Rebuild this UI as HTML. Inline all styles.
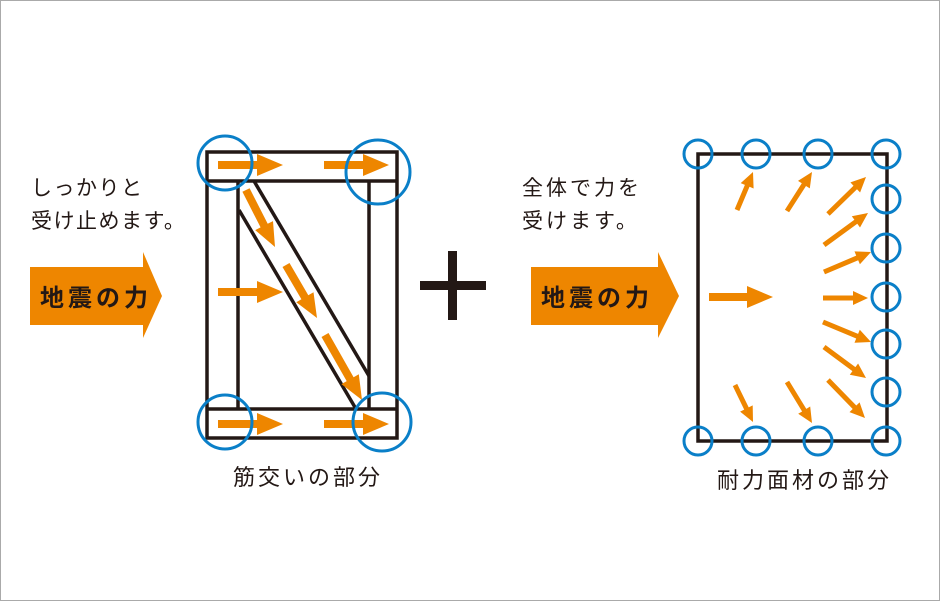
<!DOCTYPE html>
<html><head><meta charset="utf-8"><style>
html,body{margin:0;padding:0;background:#fff}
svg{display:block}
text{font-family:"Liberation Sans","Noto Sans CJK JP",sans-serif;fill:#231815}
</style></head><body>
<svg id="s" width="940" height="601" viewBox="0 0 940 601" xmlns="http://www.w3.org/2000/svg">
<rect x="0.5" y="0.5" width="939" height="600" fill="#fff" stroke="#aaa" stroke-width="1"/>
<text x="31" y="195" font-size="21" letter-spacing="1.5">しっかりと</text>
<text x="31" y="228" font-size="21" letter-spacing="1.5">受け止めます。</text>
<polygon points="30,267 143,267 143,252 162,296 143,338 143,325 30,325" fill="#ee8600"/>
<text x="40" y="306" font-size="24" font-weight="bold" letter-spacing="4">地震の力</text>
<text x="522" y="195" font-size="21" letter-spacing="3">全体で力を</text>
<text x="522" y="228" font-size="21" letter-spacing="3">受けます。</text>
<polygon points="531,267 658,267 658,252 679,296 658,338 658,325 531,325" fill="#ee8600"/>
<text x="541" y="306" font-size="24" font-weight="bold" letter-spacing="4">地震の力</text>
<rect x="420" y="281" width="66" height="9" fill="#231815"/>
<rect x="448" y="251" width="9" height="69" fill="#231815"/>
<g fill="none" stroke="#231815" stroke-width="3.5">
<rect x="207" y="152" width="190" height="286"/>
<line x1="207" y1="181" x2="397" y2="181"/>
<line x1="207" y1="409" x2="397" y2="409"/>
<line x1="238" y1="181" x2="238" y2="409"/>
<line x1="369" y1="181" x2="369" y2="409"/>
<line x1="239" y1="210" x2="356" y2="409"/>
<line x1="254" y1="181" x2="369" y2="376"/>
</g>
<g id="arrL"></g>
<g fill="none" stroke="#0a7fc8" stroke-width="3">
<circle cx="225" cy="163" r="27"/>
<circle cx="378" cy="172" r="32"/>
<circle cx="225" cy="422" r="27"/>
<circle cx="382" cy="422" r="29"/>
</g>
<text x="233" y="485" font-size="22" letter-spacing="3">筋交いの部分</text>
<rect x="698" y="154" width="189" height="287" fill="none" stroke="#231815" stroke-width="3.5"/>
<g id="arrR"></g>
<g fill="none" stroke="#0a7fc8" stroke-width="3">
<circle cx="698" cy="154" r="14"/><circle cx="756" cy="154" r="14"/><circle cx="818" cy="154" r="14"/><circle cx="886" cy="154" r="14"/>
<circle cx="886" cy="199" r="14"/><circle cx="886" cy="248" r="14"/><circle cx="886" cy="297" r="14"/><circle cx="886" cy="344" r="14"/><circle cx="886" cy="392" r="14"/>
<circle cx="698" cy="441" r="14"/><circle cx="756" cy="441" r="14"/><circle cx="818" cy="441" r="14"/><circle cx="886" cy="441" r="14"/>
</g>
<text x="717" y="488" font-size="22" letter-spacing="3">耐力面材の部分</text>
</svg>
<script>
function arrow(g,x1,y1,x2,y2,sw,hw,hl){
 var dx=x2-x1,dy=y2-y1,L=Math.hypot(dx,dy),ux=dx/L,uy=dy/L,px=-uy,py=ux;
 var bx=x2-ux*hl,by=y2-uy*hl;
 var pts=[[x1+px*sw/2,y1+py*sw/2],[bx+px*sw/2,by+py*sw/2],[bx+px*hw/2,by+py*hw/2],[x2,y2],[bx-px*hw/2,by-py*hw/2],[bx-px*sw/2,by-py*sw/2],[x1-px*sw/2,y1-py*sw/2]];
 var p=document.createElementNS("http://www.w3.org/2000/svg","polygon");
 p.setAttribute("points",pts.map(function(a){return a[0].toFixed(1)+","+a[1].toFixed(1)}).join(" "));
 p.setAttribute("fill","#ee8600");g.appendChild(p);
}
var L=document.getElementById("arrL");
[[218,165,283,165],[324,165,389,165],[218,292,283,292],[218,424,283,424],[324,424,389,424]].forEach(function(a){arrow(L,a[0],a[1],a[2],a[3],8,22,26)});
[[246,190,275,247],[286,265,317,318],[325,335,362,400]].forEach(function(a){arrow(L,a[0],a[1],a[2],a[3],8,20,24)});
var R=document.getElementById("arrR");
arrow(R,709,297,773,297,8,22,26);
[[737,210,753,172],[787,211,812,172],[828,214,866,177],[824,245,868,213],[824,272,871,252],[823,298,868,298],[823,322,871,342],[824,347,866,378],[828,380,865,418],[735,385,753,422],[787,382,812,423]].forEach(function(a){arrow(R,a[0],a[1],a[2],a[3],5,14,15)});
</script>
</body></html>
